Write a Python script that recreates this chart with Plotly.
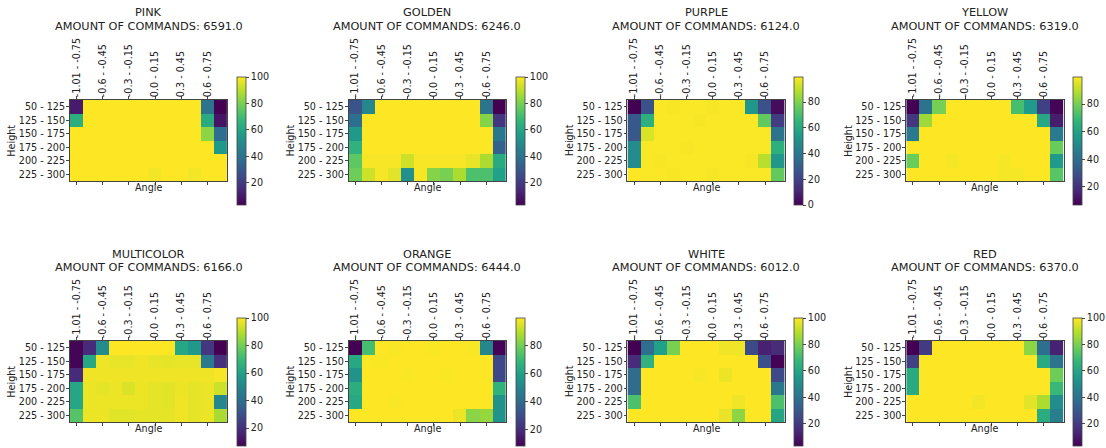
import plotly.graph_objects as go

# Bin labels for the two axes
ANGLE_BINS = [
    "-1.01 - -0.75", "-0.75 - -0.6", "-0.6 - -0.45", "-0.45 - -0.3",
    "-0.3 - -0.15", "-0.15 - 0.0", "0.0 - 0.15", "0.15 - 0.3",
    "0.3 - 0.45", "0.45 - 0.6", "0.6 - 0.75", "0.75 - 1.01",
]
HEIGHT_BINS = ["50 - 125", "125 - 150", "150 - 175", "175 - 200", "200 - 225", "225 - 300"]

COLOURS = ["PINK", "GOLDEN", "PURPLE", "YELLOW", "MULTICOLOR", "ORANGE", "WHITE", "RED"]
COMMANDS = [6591.0, 6246.0, 6124.0, 6319.0, 6166.0, 6444.0, 6012.0, 6370.0]

# Success rate (%) per height bin (rows) and angle bin (columns)
pink = [
    [10, 100, 100, 100, 100, 100, 100, 100, 100, 100, 40, 3],
    [64, 100, 100, 100, 100, 100, 100, 100, 100, 100, 62, 8],
    [100, 100, 100, 100, 100, 100, 100, 100, 100, 100, 83, 38],
    [100, 100, 100, 100, 100, 100, 100, 100, 100, 100, 100, 55],
    [100, 100, 100, 100, 100, 100, 100, 100, 100, 100, 100, 100],
    [100, 100, 100, 100, 100, 100, 98.5, 100, 100, 98.5, 100, 100],
]
golden = [
    [28, 48, 100, 100, 100, 100, 100, 100, 100, 100, 40, 3],
    [38, 100, 100, 100, 100, 100, 100, 100, 100, 100, 82, 18],
    [55, 100, 100, 100, 100, 100, 100, 100, 100, 100, 100, 42],
    [65, 100, 100, 100, 100, 100, 100, 100, 100, 100, 100, 33],
    [75, 99, 99, 99, 93, 99, 99, 99, 99, 97, 88, 62],
    [78, 93, 99, 96, 52, 99, 82, 80, 88, 72, 72, 58],
]
purple = [
    [0, 25, 99, 98.5, 99, 99, 98.5, 99, 99, 52, 25, 3],
    [27, 63, 99, 99, 99, 98.5, 99, 99, 99, 99, 75, 18],
    [27, 94, 99, 99, 99, 99, 99, 99, 99, 99, 99, 38],
    [48, 99, 99, 99, 98.5, 99, 99, 99, 99, 99, 99, 63],
    [48, 99, 98.5, 99, 99, 99, 99, 99, 99, 98.5, 89, 52],
    [99.5, 99, 99, 98.5, 99, 99, 98.5, 99, 99, 99, 99, 75],
]
yellow = [
    [6.7, 42, 80, 99.7, 99.7, 99.7, 99.7, 99.7, 72, 57, 25, 7.5],
    [22, 86, 99.7, 99.7, 99.7, 99.7, 99.7, 99.7, 99.7, 99.7, 62, 14],
    [45, 99.7, 99.7, 99.7, 99.7, 99.7, 99.7, 99.7, 99.7, 99.7, 99.7, 45],
    [99.7, 99.7, 99.7, 99.7, 99.7, 99.7, 99.7, 99.7, 99.7, 99.7, 99.7, 78],
    [78, 99.7, 99.7, 98.5, 99.7, 99.7, 99.7, 98.5, 99.7, 99.7, 99.7, 57],
    [99.7, 99.7, 99.7, 99.7, 99.7, 99.7, 99.7, 98.5, 98.5, 99.7, 99.7, 75],
]
multicolor = [
    [8, 18, 52, 100, 100, 100, 100, 100, 62, 57, 22, 7],
    [8, 63, 98, 97, 97, 98, 97, 96.5, 97, 97, 45, 20],
    [18, 98, 98, 98, 98, 98, 98, 98, 98, 98, 98, 99],
    [62, 97.5, 96.5, 97.5, 95, 97.5, 96.5, 96, 97.5, 96.5, 97.5, 93],
    [62, 97.5, 97.5, 97.5, 97.5, 97.5, 96.5, 96, 98, 96.5, 97.5, 50],
    [75, 97.5, 97.5, 96, 96, 96.5, 96.5, 96.5, 98, 96.5, 97.5, 88],
]
orange = [
    [8, 72, 99.5, 99, 99.5, 99.5, 99, 99.5, 99.5, 99, 50, 8.5],
    [63, 99.5, 99, 99.5, 99.5, 99.5, 99.5, 99.5, 99.5, 99.5, 99.5, 28],
    [55, 99.5, 99.5, 99.5, 99, 99.5, 99.5, 99, 99.5, 99.5, 99.5, 28],
    [65, 99.5, 99.5, 99.5, 99.5, 99.5, 99.5, 99.5, 99.5, 99.5, 99.5, 67],
    [63, 99.5, 99.5, 99, 99.5, 99.5, 99.5, 99.5, 99.5, 99.5, 99.5, 55],
    [99.5, 99.5, 99.5, 99.5, 99.5, 99.5, 99.5, 99.5, 97, 83, 85, 55],
]
white = [
    [3, 38, 58, 80, 100, 100, 100, 98, 98, 25, 12, 15],
    [15, 65, 100, 100, 100, 100, 100, 100, 100, 100, 27, 3.5],
    [37, 100, 100, 100, 100, 99, 100, 97.5, 100, 100, 100, 25],
    [37, 100, 100, 100, 100, 100, 100, 100, 100, 100, 100, 42],
    [72, 100, 100, 100, 100, 100, 100, 100, 98, 100, 100, 72],
    [100, 100, 100, 100, 100, 100, 100, 97, 83, 100, 100, 60],
]
red = [
    [3, 20, 100, 100, 100, 100, 100, 100, 100, 83, 38, 12],
    [22, 100, 100, 100, 100, 100, 100, 100, 100, 100, 62, 40],
    [62, 100, 100, 100, 100, 100, 100, 100, 100, 100, 100, 78],
    [62, 100, 100, 100, 100, 100, 100, 100, 100, 100, 100, 68],
    [100, 100, 100, 100, 100, 98.5, 100, 100, 100, 96, 88, 50],
    [100, 100, 100, 100, 100, 100, 100, 100, 100, 100, 63, 45],
]
MATRICES = [pink, golden, purple, yellow, multicolor, orange, white, red]

W, H = 1106, 448
FONT = "DejaVu Sans"
TEXT = "#222222"
LINE = "#444444"
TICK_SIZE = 9.6
TITLE_SIZE = 11.3


def fx(px):
    return px / W


def fy(px):
    return 1 - px / H


fig = go.Figure()
annotations = []

for i, (name, count, z) in enumerate(zip(COLOURS, COMMANDS, MATRICES)):
    row, col = divmod(i, 4)
    left = 70 + 279.3 * col
    right = left + 157.7
    top = (100, 341)[row]
    bottom = top + 81.3
    n = i + 1
    sfx = "" if n == 1 else str(n)

    fig.add_trace(go.Heatmap(
        z=z, x=ANGLE_BINS, y=HEIGHT_BINS,
        xaxis="x" + sfx, yaxis="y" + sfx,
        colorscale="Viridis",
        hoverinfo="skip",
        colorbar=dict(
            x=fx(right + 9.5), xanchor="left", xref="paper",
            y=fy(top - 23), yanchor="top", yref="paper",
            len=128, lenmode="pixels",
            thickness=9, thicknessmode="pixels",
            xpad=0, ypad=0,
            outlinewidth=0.8, outlinecolor=LINE,
            ticks="outside", ticklen=3, tickcolor=LINE,
            tick0=0, dtick=20,
            tickfont=dict(family=FONT, size=TICK_SIZE, color=TEXT),
        ),
    ))

    fig.layout["xaxis" + sfx] = dict(
        domain=[fx(left), fx(right)], anchor="y" + sfx,
        side="top", type="category", range=[-0.5, 11.5],
        tickvals=ANGLE_BINS[::2], ticktext=ANGLE_BINS[::2],
        tickangle=-90, ticks="outside", ticklen=3, tickcolor=LINE,
        ticklabelstandoff=-3,
        showline=True, linecolor=LINE, linewidth=0.8, mirror="ticks",
        showgrid=False, zeroline=False,
        tickfont=dict(family=FONT, size=TICK_SIZE, color=TEXT),
    )
    fig.layout["yaxis" + sfx] = dict(
        domain=[fy(bottom), fy(top)], anchor="x" + sfx,
        type="category", range=[5.5, -0.5],
        ticks="outside", ticklen=3, tickcolor=LINE,
        ticklabelstandoff=-1,
        showline=True, linecolor=LINE, linewidth=0.8, mirror=True,
        showgrid=False, zeroline=False,
        tickfont=dict(family=FONT, size=TICK_SIZE, color=TEXT),
    )

    cx = (left + right) / 2
    annotations += [
        dict(text=name, x=fx(cx), y=fy(top - 87), xref="paper", yref="paper",
             xanchor="center", yanchor="middle", showarrow=False,
             font=dict(family=FONT, size=TITLE_SIZE, color=TEXT)),
        dict(text=f"AMOUNT OF COMMANDS: {count:.1f}", x=fx(cx), y=fy(top - 73.7),
             xref="paper", yref="paper", xanchor="center", yanchor="middle",
             showarrow=False, font=dict(family=FONT, size=TITLE_SIZE, color=TEXT)),
        dict(text="Angle", x=fx(cx), y=fy(bottom + 6.5), xref="paper", yref="paper",
             xanchor="center", yanchor="middle", showarrow=False,
             font=dict(family=FONT, size=TICK_SIZE, color=TEXT)),
        dict(text="Height", x=fx(left - 58), y=fy((top + bottom) / 2),
             xref="paper", yref="paper", xanchor="center", yanchor="middle",
             textangle=-90, showarrow=False,
             font=dict(family=FONT, size=TICK_SIZE, color=TEXT)),
    ]

fig.update_layout(
    width=W, height=H,
    margin=dict(l=0, r=0, t=0, b=0),
    paper_bgcolor="white", plot_bgcolor="white",
    annotations=annotations,
    showlegend=False,
)

fig.write_html("out.html")
